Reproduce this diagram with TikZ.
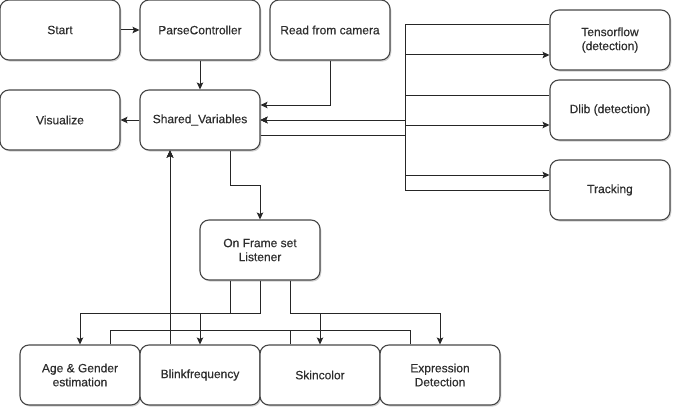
\documentclass[tikz,border=0pt]{standalone}
\usepackage{fontspec}
\setmainfont[FakeBold=0.35]{Liberation Sans}
\usetikzlibrary{arrows.meta,shadows}
\begin{document}
\begin{tikzpicture}[x=1pt,y=-1pt,
  box/.style={draw=black!72,line width=1.1pt,fill=white,rounded corners=9pt,
    minimum width=120pt,minimum height=60pt,align=center,text=black!82,
    font=\fontsize{12}{14}\selectfont,
    drop shadow={shadow xshift=1.3pt,shadow yshift=-1.6pt,opacity=0.3,fill=black!60}},
  conn/.style={draw=black!85,line width=1pt},
  arr/.style={conn,-{Stealth[length=7pt,width=6.5pt,inset=1.5pt]}}]
\useasboundingbox (0,0) rectangle (677,412);
% nodes
\node[box] (start) at (60,30) {Start};
\node[box] (parse) at (200,30) {ParseController};
\node[box] (read) at (330,30) {Read from camera};
\node[box] (vis) at (60,120) {Visualize};
\node[box] (shared) at (200,120) {Shared\_Variables};
\node[box] (tf) at (610,40) {Tensorflow\\(detection)};
\node[box] (dlib) at (610,110) {Dlib (detection)};
\node[box] (trk) at (610,190) {Tracking};
\node[box] (onf) at (260,250) {On Frame set\\Listener};
\node[box] (age) at (80,375) {Age \& Gender\\estimation};
\node[box] (blink) at (200,375) {Blinkfrequency};
\node[box] (skin) at (320,375) {Skincolor};
\node[box] (expr) at (440,375) {Expression\\Detection};
% helper coordinates
\coordinate (bus) at (405,0);
\coordinate (sout) at ([yshift=-15pt]shared.east);
\coordinate (sin) at (shared.east);
\coordinate (rin) at ([yshift=15pt]shared.east);
\coordinate (tfin) at ([yshift=-15pt]tf.west);
\coordinate (tfout) at ([yshift=15pt]tf.west);
\coordinate (dlin) at ([yshift=-15pt]dlib.west);
\coordinate (dlout) at ([yshift=15pt]dlib.west);
\coordinate (trin) at ([yshift=15pt]trk.west);
\coordinate (trout) at (trk.west);
\coordinate (sup) at ([xshift=-30pt]shared.south);
% top connectors
\draw[arr] (start.east) -- (parse.west);
\draw[arr] (parse.south) -- (shared.north);
\draw[arr] (read.south) |- (rin);
\draw[arr] (shared.west) -- (vis.east);
% right side bus
\draw[arr] (sout) -- (sout -| bus) |- (tfin);
\draw[arr] (tfout) -- (tfout -| bus) |- (sin);
\draw[arr] (sout) -- (sout -| bus) |- (dlin);
\draw[arr] (dlout) -- (dlout -| bus) |- (sin);
\draw[arr] (sout) -- (sout -| bus) |- (trin);
\draw[arr] (trout) -- (trout -| bus) |- (sin);
% to listener
\draw[arr] ([xshift=30pt]shared.south) -- ++(0,35) -| (onf.north);
% listener to modules
\draw[arr] ([xshift=-30pt]onf.south) -- ++(0,33) -| (age.north);
\draw[arr] (onf.south) -- ++(0,33) -| (blink.north);
\draw[arr] ([xshift=30pt]onf.south) -- ++(0,33) -| (skin.north);
\draw[arr] ([xshift=30pt]onf.south) -- ++(0,33) -| (expr.north);
% modules back to shared
\draw[arr] ([xshift=30pt]age.north) -- ++(0,-14) -| (sup);
\draw[arr] ([xshift=-30pt]blink.north) -- (sup);
\draw[arr] ([xshift=-30pt]skin.north) -- ++(0,-14) -| (sup);
\draw[arr] ([xshift=-30pt]expr.north) -- ++(0,-14) -| (sup);
\end{tikzpicture}
\end{document}
